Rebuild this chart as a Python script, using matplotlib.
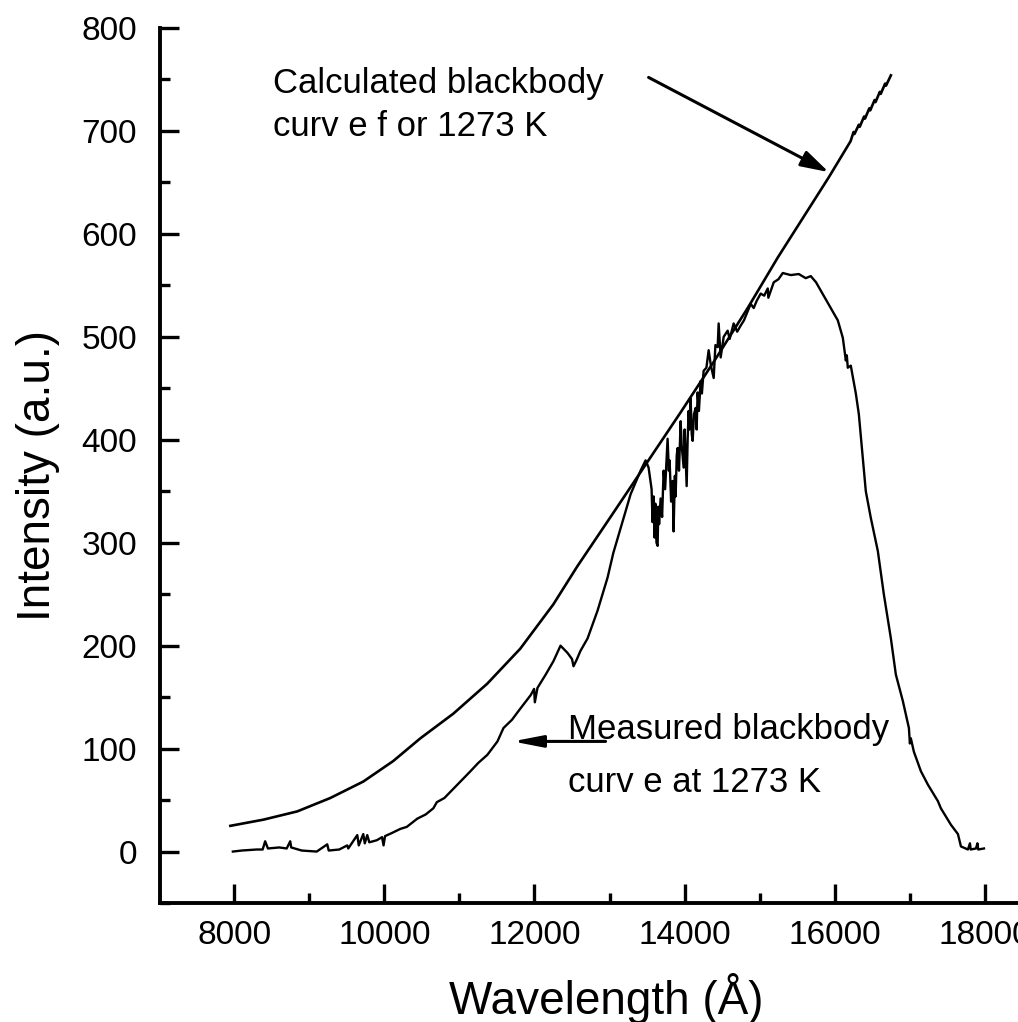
import matplotlib
matplotlib.use("Agg")
import matplotlib.pyplot as plt
from matplotlib.ticker import MultipleLocator

plt.rcParams["font.family"] = ["Liberation Sans", "DejaVu Sans"]

# calculated blackbody curve for 1273 K
calc_wl = [7950, 8390, 8840, 9280, 9720, 10120, 10480, 10920, 11370, 11810,
           12250, 12570, 13050, 13500, 13950, 14390, 14840, 15240, 15920, 16210,
           16250, 16262, 16320, 16332, 16390, 16402, 16460, 16472, 16530, 16542,
           16600, 16612, 16670, 16682, 16747]
calc_int = [25, 31, 39, 52, 68, 88, 110, 134, 163, 197,
            240, 277, 329, 378, 427, 476, 528, 577, 655, 690,
            699, 697, 706, 704, 714, 712, 722, 720, 730, 728,
            738, 736, 746, 744, 754]

# measured blackbody curve at 1273 K
meas_wl = [7983, 8100, 8300, 8380, 8413, 8450, 8600, 8700, 8747, 8760,
           8900, 9100, 9240, 9260, 9400, 9507, 9520, 9640, 9660, 9720,
           9740, 9773, 9800, 9900, 9970, 9990, 10010, 10100, 10213, 10300,
           10440, 10550, 10653, 10700, 10800, 10880, 10920, 11013, 11147, 11250,
           11373, 11507, 11587, 11700, 11813, 11950, 11995, 12005, 12040, 12150,
           12253, 12347, 12440, 12500, 12520, 12560, 12613, 12707, 12840, 12973,
           13050, 13147, 13280, 13413, 13480, 13520, 13560, 13573, 13587, 13600,
           13610, 13625, 13640, 13650, 13660, 13680, 13700, 13720, 13740, 13773,
           13790, 13800, 13820, 13840, 13853, 13870, 13880, 13895, 13907, 13925,
           13947, 13960, 13987, 14000, 14015, 14027, 14040, 14053, 14065, 14080,
           14095, 14107, 14125, 14147, 14160, 14173, 14190, 14213, 14230, 14253,
           14290, 14320, 14350, 14387, 14410, 14440, 14453, 14480, 14520, 14573,
           14600, 14653, 14700, 14747, 14790, 14840, 14880, 14920, 14960, 15013,
           15060, 15107, 15115, 15187, 15250, 15307, 15413, 15520, 15613, 15680,
           15750, 15813, 15947, 16040, 16107, 16147, 16160, 16173, 16213, 16280,
           16320, 16373, 16413, 16480, 16573, 16653, 16747, 16813, 16907, 16987,
           17000, 17013, 17053, 17147, 17240, 17373, 17413, 17547, 17640, 17680,
           17773, 17800, 17810, 17880, 17900, 17910, 17987]
meas_int = [0, 1, 2, 2, 10, 3, 4, 3, 10, 4,
            1, 0, 7, 1, 2, 6, 3, 16, 6, 17,
            8, 16, 9, 11, 14, 6, 15, 18, 22, 24,
            32, 36, 42, 48, 52, 58, 61, 68, 78, 86,
            94, 107, 120, 128, 139, 152, 158, 145, 159, 172,
            185, 200, 193, 187, 180, 186, 195, 207, 234, 266,
            290, 314, 347, 370, 380, 373, 352, 320, 345, 305,
            338, 300, 297, 335, 318, 343, 325, 370, 352, 401,
            370, 380, 340, 360, 311, 365, 345, 385, 392, 370,
            418, 395, 373, 410, 380, 355, 400, 428, 410, 440,
            405, 399, 425, 431, 410, 446, 428, 457, 445, 467,
            470, 487, 472, 460, 492, 490, 513, 480, 500, 506,
            498, 513, 505, 511, 516, 525, 532, 528, 535, 542,
            540, 547, 538, 553, 556, 562, 560, 561, 557, 559,
            553, 545, 528, 516, 499, 477, 482, 470, 472, 445,
            425, 382, 350, 324, 292, 250, 207, 172, 146, 120,
            105, 110, 97, 78, 65, 49, 42, 26, 17, 5,
            2, 8, 2, 3, 8, 2, 3]

x_major = [8000, 10000, 12000, 14000, 16000, 18000]
x_labels = ["8000", "10000", "12000", "14000", "16000", "18000"]
y_major = [0, 100, 200, 300, 400, 500, 600, 700, 800]

fig = plt.figure(figsize=(10.18, 10.22), dpi=100)
ax = fig.add_axes([0.1572, 0.1164, 0.8428, 0.8562])

ax.plot(calc_wl, calc_int, color="black", linewidth=1.9)
ax.plot(meas_wl, meas_int, color="black", linewidth=1.7)

ax.set_xlim(7013, 18440)
ax.set_ylim(-50, 800)

ax.spines["top"].set_visible(False)
ax.spines["right"].set_visible(False)
for side in ("left", "bottom"):
    ax.spines[side].set_linewidth(2.8)

ax.set_xticks(x_major)
ax.set_xticklabels(x_labels)
ax.set_yticks(y_major)
ax.xaxis.set_minor_locator(MultipleLocator(1000))
ax.yaxis.set_minor_locator(MultipleLocator(50))
ax.tick_params(which="both", direction="in", width=2.4, labelsize=24)
ax.tick_params(which="major", length=14)
ax.tick_params(which="minor", length=7.5)
ax.tick_params(axis="y", which="major", pad=16.5)
ax.tick_params(axis="x", which="major", pad=12)

ax.set_xlabel("Wavelength (Å)", fontsize=33)
ax.set_ylabel("Intensity (a.u.)", fontsize=33)
ax.xaxis.set_label_coords(0.52, -0.080)
ax.yaxis.set_label_coords(-0.117, 0.489)

# annotations
ax.annotate("", xy=(15920, 660), xytext=(13520, 752),
            arrowprops=dict(arrowstyle="-|>,head_length=1.7,head_width=0.5",
                            color="black", linewidth=2.2, shrinkA=0, shrinkB=0))
ax.text(8520, 737, "Calculated blackbody", fontsize=25, ha="left", va="baseline")
ax.text(8520, 695, "curv e f or 1273 K", fontsize=25, ha="left", va="baseline")

ax.annotate("", xy=(11707, 107), xytext=(12947, 107),
            arrowprops=dict(arrowstyle="-|>,head_length=1.8,head_width=0.35",
                            color="black", linewidth=2.2, shrinkA=0, shrinkB=0))
ax.text(12440, 109, "Measured blackbody", fontsize=25, ha="left", va="baseline")
ax.text(12440, 58, "curv e at 1273 K", fontsize=25, ha="left", va="baseline")

fig.savefig("out.png", dpi=100)
